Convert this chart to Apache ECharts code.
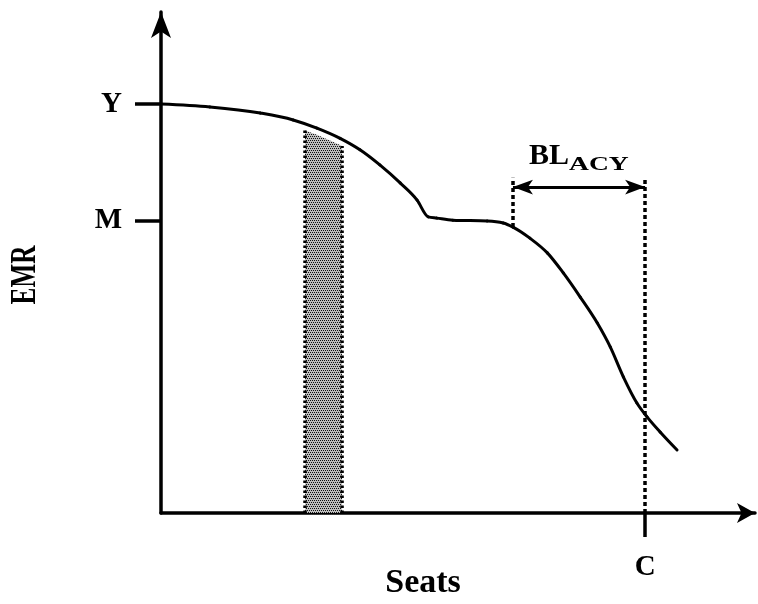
<!DOCTYPE html>
<html>
<head>
<meta charset="utf-8">
<script src="https://cdn.jsdelivr.net/npm/echarts@6/dist/echarts.min.js"></script>
<style>
  html, body { margin: 0; padding: 0; background: #fff; }
  #chart { width: 758px; height: 604px; }
</style>
</head>
<body>
<div id="chart"></div>
<script>
// Expected marginal revenue curve (capacity C = 100 seats, Y = 100)
const seats = [0, 10.1, 20.5, 27.3, 32.2, 37.0, 41.1, 45.2, 49.4, 52.9, 55.2, 57.0, 60.3, 67.4, 70.7, 72.7, 76.2, 79.8, 83.1, 86.6, 90.1, 92.8, 95.5, 98.3, 100.4, 103.1, 106.6];
const emr   = [100, 99.3, 97.8, 96.1, 94.1, 91.6, 88.8, 85.1, 80.7, 76.5, 72.4, 72.1, 71.6, 71.4, 70.9, 69.9, 67.2, 63.6, 58.7, 52.8, 46.5, 40.6, 33.3, 26.9, 23.5, 19.8, 15.4];

// Axis ticks and their labels
const yTickValues = [71.4, 100];
const yTickLabels = ['M', 'Y'];
const xTickValues = [100];
const xTickLabels = ['C'];

// Shaded seat band, booking-limit span and guide-line height
const bandRange = [29.75, 37.4];
const blStart = 72.7;
const capacity = 100;
const blLevel = 79.7;
const guideTop = 82;

const xMax = 122.7;
const yMax = 122.5;

const SERIF = '"Liberation Serif", "Times New Roman", serif';

// Linear lookup of the curve between its points
function emrAt(x) {
  for (let i = 1; i < seats.length; i++) {
    if (x <= seats[i]) {
      const t = (x - seats[i - 1]) / (seats[i] - seats[i - 1]);
      return emr[i - 1] + t * (emr[i] - emr[i - 1]);
    }
  }
  return emr[emr.length - 1];
}

// Monotone cubic tangents (Fritsch–Carlson) for pixel points
function monotoneTangents(p) {
  const n = p.length;
  const t = new Array(n).fill(0);
  const sgn = v => (v > 0 ? 1 : v < 0 ? -1 : 0);
  for (let i = 1; i < n - 1; i++) {
    const h0 = p[i][0] - p[i - 1][0], h1 = p[i + 1][0] - p[i][0];
    const s0 = (p[i][1] - p[i - 1][1]) / h0, s1 = (p[i + 1][1] - p[i][1]) / h1;
    const m = (s0 * h1 + s1 * h0) / (h0 + h1);
    t[i] = (sgn(s0) + sgn(s1)) * Math.min(Math.abs(s0), Math.abs(s1), 0.5 * Math.abs(m)) || 0;
  }
  const hs = p[1][0] - p[0][0];
  t[0] = (3 * (p[1][1] - p[0][1]) / hs - t[1]) / 2;
  const he = p[n - 1][0] - p[n - 2][0];
  t[n - 1] = (3 * (p[n - 1][1] - p[n - 2][1]) / he - t[n - 2]) / 2;
  return t;
}

// Stippled grey fill for the band
function stipple() {
  const c = document.createElement('canvas');
  c.width = 4; c.height = 4;
  const g = c.getContext('2d');
  g.fillStyle = '#bfbfbf';
  g.fillRect(0, 0, 4, 4);
  g.fillStyle = '#111';
  g.fillRect(0, 0, 1, 1);
  g.fillRect(2, 0, 1, 1);
  g.fillRect(1, 2, 1, 1);
  g.fillRect(3, 2, 1, 1);
  return c;
}
const pattern = { image: stipple(), repeat: 'repeat' };

const chart = echarts.init(document.getElementById('chart'));

const tickLabelStyle = {
  color: '#000',
  fontFamily: SERIF,
  fontWeight: 'bold',
  fontSize: 29
};

chart.setOption({
  animation: false,
  backgroundColor: '#fff',
  grid: { left: 161, right: 3, top: 12, bottom: 91, containLabel: false, outerBoundsMode: 'none' },
  xAxis: {
    type: 'value',
    min: 0,
    max: xMax,
    axisLine: {
      show: true,
      onZero: false,
      symbol: ['none', 'arrow'],
      symbolSize: [15, 18],
      lineStyle: { color: '#000', width: 3.5 }
    },
    axisTick: {
      show: true,
      customValues: xTickValues,
      length: 24,
      lineStyle: { color: '#000', width: 3.5 }
    },
    axisLabel: Object.assign({
      customValues: xTickValues,
      margin: 40,
      formatter: v => xTickLabels[xTickValues.indexOf(v)] || ''
    }, tickLabelStyle),
    splitLine: { show: false }
  },
  yAxis: {
    type: 'value',
    min: 0,
    max: yMax,
    axisLine: {
      show: true,
      onZero: false,
      symbol: ['none', 'arrow'],
      symbolSize: [15, 26],
      lineStyle: { color: '#000', width: 3.5 }
    },
    axisTick: {
      show: true,
      customValues: yTickValues,
      length: 26,
      lineStyle: { color: '#000', width: 3.5 }
    },
    axisLabel: Object.assign({
      customValues: yTickValues,
      margin: 39,
      formatter: v => yTickLabels[yTickValues.indexOf(v)] || ''
    }, tickLabelStyle),
    splitLine: { show: false }
  },
  series: [
    {
      // shaded band just under the curve
      type: 'custom',
      z: 1,
      silent: true,
      data: [bandRange],
      encode: { x: [0, 1] },
      renderItem: function (params, api) {
        const gap = 1.6;
        const x0 = api.value(0);
        const x1 = api.value(1);
        const top = [[x0, emrAt(x0) - gap]];
        seats.forEach((s, i) => { if (s > x0 && s < x1) top.push([s, emr[i] - gap]); });
        top.push([x1, emrAt(x1) - gap]);
        const bl = api.coord([x0, 0]);
        const br = api.coord([x1, 0]);
        const tl = api.coord(top[0]);
        const tr = api.coord(top[top.length - 1]);
        const pts = [bl].concat(top.map(p => api.coord(p)), [br]);
        const edge = { stroke: '#000', lineWidth: 3.5, lineDash: [2.5, 2.5] };
        return {
          type: 'group',
          children: [
            { type: 'polygon', shape: { points: pts }, style: { fill: pattern } },
            { type: 'line', shape: { x1: bl[0], y1: bl[1], x2: tl[0], y2: tl[1] }, style: edge },
            { type: 'line', shape: { x1: br[0], y1: br[1], x2: tr[0], y2: tr[1] }, style: edge }
          ]
        };
      }
    },
    {
      // EMR curve: one monotone cubic segment per data point
      type: 'custom',
      z: 3,
      silent: true,
      data: seats.map((s, i) => [s, emr[i]]),
      encode: { x: 0, y: 1 },
      renderItem: function (params, api) {
        const i = params.dataIndex;
        if (i >= seats.length - 1) return null;
        const p = seats.map((s, k) => api.coord([s, emr[k]]));
        const t = monotoneTangents(p);
        const dx = (p[i + 1][0] - p[i][0]) / 3;
        return {
          type: 'bezierCurve',
          shape: {
            x1: p[i][0], y1: p[i][1],
            cpx1: p[i][0] + dx, cpy1: p[i][1] + dx * t[i],
            cpx2: p[i + 1][0] - dx, cpy2: p[i + 1][1] - dx * t[i + 1],
            x2: p[i + 1][0], y2: p[i + 1][1]
          },
          style: { stroke: '#000', lineWidth: 3, fill: null, lineCap: 'round' }
        };
      }
    },
    {
      // guide lines and booking-limit arrow
      type: 'line',
      z: 2,
      data: [],
      silent: true,
      markLine: {
        silent: true,
        symbol: 'none',
        animation: false,
        label: { show: false },
        lineStyle: { color: '#000', width: 3.5, type: [4, 3] },
        data: [
          [{ coord: [blStart, emrAt(blStart)] }, { coord: [blStart, guideTop] }],
          [{ coord: [capacity, 0] }, { coord: [capacity, guideTop] }],
          [
            {
              coord: [blStart, blLevel],
              symbol: 'arrow',
              symbolSize: [11, 20],
              lineStyle: { type: 'solid', width: 3, color: '#000' }
            },
            { coord: [capacity, blLevel], symbol: 'arrow', symbolSize: [11, 20] }
          ]
        ]
      }
    }
  ]
});

// Axis titles and the BL_ACY label over the booking-limit arrow
const arrowMid = chart.convertToPixel({ gridIndex: 0 }, [(blStart + capacity) / 2, blLevel]);
chart.setOption({
  graphic: [
    {
      type: 'text',
      x: 423, y: 583,
      style: {
        text: 'Seats',
        font: 'bold 34px ' + SERIF,
        fill: '#000',
        align: 'center',
        verticalAlign: 'middle'
      }
    },
    {
      type: 'text',
      x: 26, y: 275,
      rotation: Math.PI / 2,
      scaleX: 0.7,
      style: {
        text: 'EMR',
        font: 'bold 36px ' + SERIF,
        fill: '#000',
        align: 'center',
        verticalAlign: 'middle'
      }
    },
    {
      type: 'text',
      x: arrowMid[0] - 10, y: arrowMid[1] - 31,
      style: {
        text: 'BL',
        font: 'bold 30px ' + SERIF,
        fill: '#000',
        align: 'right',
        verticalAlign: 'middle'
      }
    },
    {
      type: 'text',
      x: arrowMid[0] - 10, y: arrowMid[1] - 22,
      scaleX: 1.45,
      style: {
        text: 'ACY',
        font: 'bold 19px ' + SERIF,
        fill: '#000',
        align: 'left',
        verticalAlign: 'middle'
      }
    }
  ]
});
</script>
</body>
</html>
